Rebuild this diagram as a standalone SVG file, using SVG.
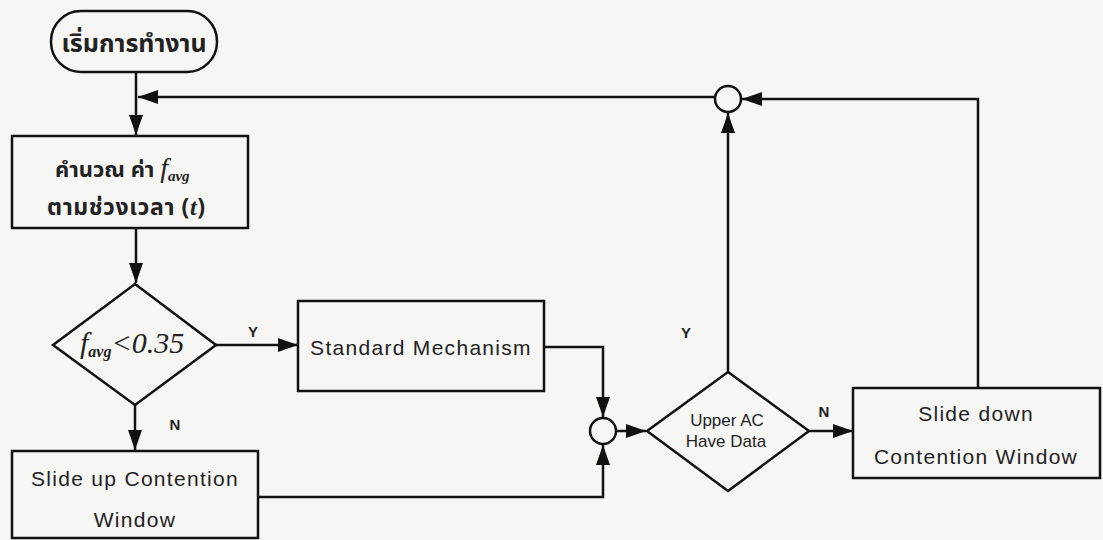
<svg xmlns="http://www.w3.org/2000/svg" width="1103" height="540" viewBox="0 0 1103 540">
<defs>
<marker id="ah" markerUnits="userSpaceOnUse" markerWidth="20" markerHeight="14" refX="20" refY="7" orient="auto">
<path d="M0,0 L20,7 L0,14 z" fill="#111"/>
</marker>
<style>
.b{fill:none;stroke:#111;stroke-width:2.5}
.c{fill:none;stroke:#111;stroke-width:2.5;marker-end:url(#ah)}
.en{font-family:"Liberation Sans",Arial,sans-serif;font-size:21px;fill:#222;letter-spacing:1.3px;text-anchor:middle}
.sm{font-family:"Liberation Sans",Arial,sans-serif;font-size:17px;fill:#222;text-anchor:middle}
.lb{font-family:"Liberation Sans",Arial,sans-serif;font-size:15px;font-weight:bold;fill:#222;text-anchor:middle}
.th{font-family:"Noto Sans Thai","Noto Sans","DejaVu Sans",sans-serif;font-weight:bold;fill:#222}
.it{font-family:"Liberation Serif","Times New Roman",serif;font-style:italic;fill:#222}
</style>
</defs>
<rect width="1103" height="540" fill="#f6f6f4"/>
<g id="connectors">
<path class="c" d="M136,72 L136,135"/>
<path class="c" d="M714,97 L138,97"/>
<path class="c" d="M136,228 L136,283"/>
<path class="c" d="M216,345 L298,345"/>
<path class="c" d="M135,405 L135,450"/>
<path class="c" d="M544,347 L603,347 L603,417"/>
<path class="c" d="M258,497 L603,497 L603,445"/>
<path class="c" d="M616,431 L646,431"/>
<path class="c" d="M809,431 L853,431"/>
<path class="c" d="M728,372 L728,113"/>
<path class="c" d="M978,387 L978,99 L742,99"/>
</g>
<g id="labels">
<text class="lb" x="253" y="337">Y</text>
<text class="lb" x="175" y="430">N</text>
<text class="lb" x="686" y="338">Y</text>
<text class="lb" x="824" y="417">N</text>
</g>
<g id="start">
<rect class="b" x="51" y="11" width="166" height="61" rx="30" ry="30"/>
<text class="th" x="134" y="52" font-size="25" text-anchor="middle">เริ่มการทำงาน</text>
</g>
<g id="calc">
<rect class="b" x="12" y="136" width="236" height="92"/>
<text class="th" x="55" y="177" font-size="22">คำนวณ ค่า <tspan class="it" font-size="28" font-weight="normal">f</tspan><tspan class="it" font-size="15" font-weight="bold" dy="4">avg</tspan></text>
<text class="th" x="47" y="215" font-size="23" letter-spacing="0.6">ตามช่วงเวลา (<tspan class="it" font-size="24">t</tspan>)</text>
</g>
<g id="dec1">
<polygon class="b" points="135,284 216,345 135,405 53,345"/>
<text class="it" x="80" y="353" font-size="30">f<tspan font-size="16" font-weight="bold" dy="4">avg</tspan><tspan dy="-4">&lt;0.35</tspan></text>
</g>
<g id="std">
<rect class="b" x="298" y="301" width="246" height="90"/>
<text class="en" x="421" y="355">Standard Mechanism</text>
</g>
<g id="slideup">
<rect class="b" x="12" y="451" width="246" height="87"/>
<text class="en" x="135" y="486">Slide up Contention</text>
<text class="en" x="135" y="527">Window</text>
</g>
<g id="junction1">
<circle class="b" cx="603" cy="431" r="13"/>
</g>
<g id="dec2">
<polygon class="b" points="728,372 809,431 728,491 647,431"/>
<text class="sm" x="727" y="426">Upper AC</text>
<text class="sm" x="726" y="447">Have Data</text>
</g>
<g id="slidedown">
<rect class="b" x="853" y="388" width="247" height="90"/>
<text class="en" x="976" y="421">Slide down</text>
<text class="en" x="976" y="464">Contention Window</text>
</g>
<g id="junction2">
<circle class="b" cx="728" cy="99" r="13"/>
</g>
</svg>
